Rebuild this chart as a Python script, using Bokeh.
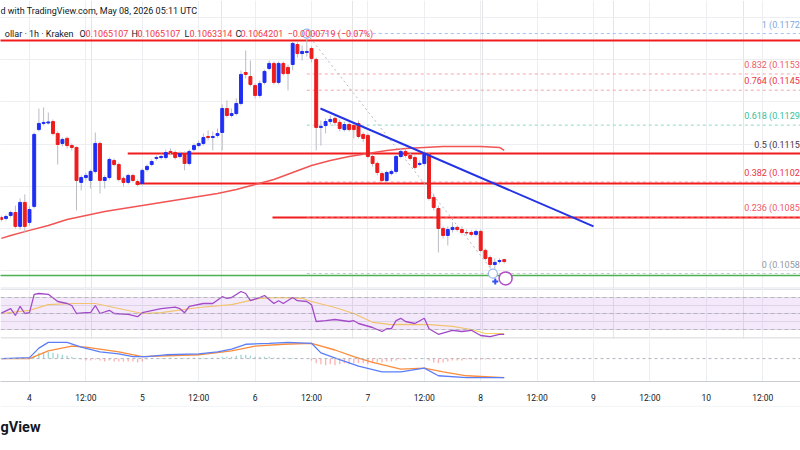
from datetime import datetime, timezone
from bokeh.plotting import figure
from bokeh.layouts import column
from bokeh.models import Range1d, Label, Span, FixedTicker, Grid, BoxAnnotation
from bokeh.embed import file_html
from bokeh.resources import INLINE
from bokeh.core.properties import value

# ---------------- data ----------------
# candle time = hours from 2026-05-04 00:00 UTC (Kraken, 1h)
candle_hours = list(range(-6, 102))
opens = [0.10851, 0.10847, 0.10861, 0.10875, 0.10809, 0.10923, 0.10828, 0.10904, 0.11269, 0.11298,
         0.11300, 0.11307, 0.11250, 0.11203, 0.11227, 0.11193, 0.11184, 0.11018, 0.11041, 0.11027,
         0.11070, 0.11203, 0.11027, 0.11041, 0.11122, 0.11103, 0.11037, 0.11018, 0.11051, 0.11022,
         0.11013, 0.11079, 0.11103, 0.11132, 0.11136, 0.11136, 0.11165, 0.11160, 0.11141, 0.11155,
         0.11108, 0.11174, 0.11193, 0.11203, 0.11236, 0.11231, 0.11241, 0.11255, 0.11369, 0.11336,
         0.11345, 0.11393, 0.11540, 0.11521, 0.11478, 0.11431, 0.11493, 0.11559, 0.11583, 0.11493,
         0.11583, 0.11564, 0.11578, 0.11673, 0.11630, 0.11635, 0.11654, 0.11602, 0.11279, 0.11288,
         0.11307, 0.11322, 0.11303, 0.11269, 0.11293, 0.11288, 0.11298, 0.11246, 0.11241, 0.11141,
         0.11108, 0.11060, 0.11027, 0.11060, 0.11070, 0.11141, 0.11165, 0.11146, 0.11136, 0.11103,
         0.11108, 0.11151, 0.10946, 0.10894, 0.10799, 0.10766, 0.10794, 0.10804, 0.10794, 0.10780,
         0.10780, 0.10771, 0.10785, 0.10695, 0.10661, 0.10628, 0.10642, 0.1065107]
highs = [0.10861, 0.10866, 0.10884, 0.10908, 0.10942, 0.10961, 0.10904, 0.11255, 0.11369, 0.11374,
         0.11350, 0.11317, 0.11260, 0.11231, 0.11236, 0.11203, 0.11189, 0.11051, 0.11065, 0.11079,
         0.11255, 0.11212, 0.11051, 0.11136, 0.11132, 0.11113, 0.11046, 0.11060, 0.11060, 0.11032,
         0.11084, 0.11103, 0.11127, 0.11146, 0.11155, 0.11174, 0.11179, 0.11170, 0.11165, 0.11165,
         0.11174, 0.11203, 0.11217, 0.11250, 0.11265, 0.11260, 0.11274, 0.11388, 0.11407, 0.11369,
         0.11417, 0.11550, 0.11645, 0.11597, 0.11488, 0.11502, 0.11554, 0.11597, 0.11592, 0.11592,
         0.11592, 0.11578, 0.11687, 0.11683, 0.11668, 0.11725, 0.11664, 0.11611, 0.11312, 0.11322,
         0.11336, 0.11331, 0.11317, 0.11307, 0.11303, 0.11298, 0.11312, 0.11255, 0.11250, 0.11151,
         0.11117, 0.11070, 0.11075, 0.11079, 0.11151, 0.11179, 0.11179, 0.11160, 0.11146, 0.11122,
         0.11170, 0.11160, 0.10965, 0.10908, 0.10809, 0.10809, 0.10828, 0.10813, 0.10809, 0.10794,
         0.10790, 0.10794, 0.10794, 0.10704, 0.10671, 0.10657, 0.10657, 0.1065107]
lows = [0.10832, 0.10837, 0.10851, 0.10799, 0.10794, 0.10780, 0.10813, 0.10894, 0.11260, 0.11288,
        0.11293, 0.11241, 0.11103, 0.11189, 0.11179, 0.11170, 0.10885, 0.10980, 0.11027, 0.10989,
        0.11060, 0.10965, 0.10989, 0.11032, 0.11094, 0.11022, 0.10999, 0.11008, 0.11018, 0.10999,
        0.11003, 0.11070, 0.11094, 0.11122, 0.11127, 0.11127, 0.11151, 0.11127, 0.11132, 0.11075,
        0.11098, 0.11165, 0.11184, 0.11193, 0.11217, 0.11170, 0.11231, 0.11170, 0.11326, 0.11326,
        0.11336, 0.11383, 0.11512, 0.11474, 0.11417, 0.11421, 0.11483, 0.11550, 0.11483, 0.11483,
        0.11526, 0.11455, 0.11550, 0.11611, 0.11597, 0.11616, 0.11588, 0.11170, 0.11193, 0.11250,
        0.11293, 0.11288, 0.11260, 0.11260, 0.11260, 0.11227, 0.11227, 0.11208, 0.11132, 0.11094,
        0.11051, 0.11018, 0.11018, 0.11051, 0.11060, 0.11132, 0.11136, 0.11122, 0.11079, 0.11094,
        0.11098, 0.10932, 0.10885, 0.10685, 0.10752, 0.10718, 0.10780, 0.10785, 0.10771, 0.10766,
        0.10761, 0.10761, 0.10685, 0.10647, 0.10609, 0.10585, 0.10633, 0.1063314]
closes = [0.10842, 0.10856, 0.10875, 0.10809, 0.10923, 0.10809, 0.10889, 0.11246, 0.11298, 0.11303,
          0.11305, 0.11250, 0.11198, 0.11222, 0.11193, 0.11184, 0.11027, 0.11041, 0.11051, 0.11070,
          0.11203, 0.11027, 0.11041, 0.11127, 0.11103, 0.11032, 0.11018, 0.11051, 0.11027, 0.11008,
          0.11075, 0.11094, 0.11117, 0.11136, 0.11141, 0.11160, 0.11160, 0.11136, 0.11155, 0.11108,
          0.11165, 0.11193, 0.11203, 0.11231, 0.11231, 0.11236, 0.11250, 0.11369, 0.11336, 0.11345,
          0.11393, 0.11531, 0.11531, 0.11483, 0.11431, 0.11488, 0.11545, 0.11583, 0.11493, 0.11583,
          0.11535, 0.11535, 0.11678, 0.11630, 0.11640, 0.11640, 0.11607, 0.11279, 0.11284, 0.11307,
          0.11317, 0.11303, 0.11274, 0.11293, 0.11269, 0.11269, 0.11236, 0.11227, 0.11141, 0.11108,
          0.11065, 0.11027, 0.11065, 0.11070, 0.11141, 0.11165, 0.11146, 0.11132, 0.11089, 0.11108,
          0.11151, 0.10942, 0.10899, 0.10799, 0.10766, 0.10794, 0.10804, 0.10794, 0.10780, 0.10778,
          0.10771, 0.10785, 0.10695, 0.10657, 0.10628, 0.10638, 0.10647, 0.1064201]

# moving average on price pane
ma_hours = [-6, -4, 0, 4, 8, 12, 16, 20, 24, 28, 32, 36, 40, 44, 48, 52, 56, 60, 64, 68,
            72, 76, 80, 84, 88, 92, 96, 100, 101]
ma_values = [0.10752, 0.10766, 0.10790, 0.10813, 0.10842, 0.10861, 0.10880, 0.10894, 0.10908, 0.10923,
             0.10937, 0.10951, 0.10965, 0.10984, 0.11008, 0.11032, 0.11065, 0.11098, 0.11122, 0.11141,
             0.11155, 0.11170, 0.11179, 0.11184, 0.11189, 0.11189, 0.11189, 0.11184, 0.11170]

# Fibonacci retracement (from swing high to swing low)
fib_prices = [0.11725, 0.11533, 0.11456, 0.11290, 0.11155, 0.11020, 0.10854, 0.10585]
fib_labels = ["1 (0.1172", "0.832 (0.1153", "0.764 (0.1145", "0.618 (0.1129", "0.5 (0.1115",
              "0.382 (0.1102", "0.236 (0.1085", "0 (0.1058"]
fib_line_colors = ["#9fc3f5", "#f5a3aa", "#f5a3aa", "#8fdcc6", "#b9a0b0", "#f5a3aa", "#f5a3aa", "#c3c6cc"]
fib_text_colors = ["#7fa8e0", "#ef5a66", "#ec3340", "#33c29a", "#4a3545", "#ec3340", "#ef5a66", "#9598a1"]
fib_start_hour = 59
fib_end_hour = 99
# red horizontal support/resistance rays
red_levels = [0.11692, 0.11155, 0.11013, 0.10851]
red_start_hours = [-8, 20.9, 22.6, 51.7]
green_level = 0.10576
# blue bearish trend line
trend_hours = [61.9, 120.0]
trend_prices = [0.11369, 0.10809]

# RSI pane
rsi_hours = [-6, -4, -3, -2, -1, 0, 1, 2, 4, 6, 8, 9, 10, 12, 13, 14, 15, 17, 18, 21, 23, 24, 28, 31,
             32, 33, 34, 37, 39, 41, 42, 43, 45, 46, 47, 49, 50, 52, 53, 54, 56, 57, 59, 60, 61, 63,
             65, 68, 69, 70, 73, 75, 76, 77, 78, 79, 80, 82, 84, 85, 87, 90, 92, 94, 96, 98, 100, 101]
rsi_values = [50.4, 56, 47.5, 59, 50, 51, 74, 75, 74, 65, 62.5, 60, 50, 51, 51, 60, 50, 54, 50, 49,
              46, 51, 56, 58, 56, 51, 59, 62.5, 62.5, 71, 69, 70, 77.5, 75, 66, 70, 72.5, 62.5, 66,
              62.5, 70, 66, 65, 61, 40, 41, 42.5, 40, 41, 37.5, 32.5, 27.5, 31, 31, 41, 44, 40, 37.5,
              44, 31, 24, 29, 27.5, 29, 22.5, 21, 24, 24]
rsi_ma_hours = [-6, 0, 4, 9, 14, 18, 24, 28, 36, 43, 49, 53, 58, 60, 65, 69, 73, 77, 79, 85, 90, 94, 97, 101]
rsi_ma_values = [50, 54, 61, 62.5, 62.5, 57.5, 50, 51, 57.5, 61, 69, 70, 69, 65, 57.5, 50, 39, 36, 36.5,
                 36, 34, 30, 25, 25]

# MACD pane
macd_hours = [-6, 0, 2, 4, 8, 11, 15, 19, 22, 25, 29, 36, 40, 43, 46, 51, 55, 60, 62, 66, 70, 75,
              79, 84, 87, 93, 97, 101]
macd_values = [0, 0.00004, 0.00044, 0.00068, 0.00068, 0.00048, 0.00028, 0.00020, 0.00008, 0.00008,
               0.00016, 0.00020, 0.00028, 0.00040, 0.00060, 0.00064, 0.00068, 0.00064, 0.00024,
               -0.00004, -0.00032, -0.00056, -0.00056, -0.00040, -0.00072, -0.00080, -0.00080, -0.00080]
signal_hours = [-6, 0, 4, 9, 12, 19, 24, 29, 36, 43, 48, 54, 60, 65, 69, 73, 79, 84, 88, 93, 101]
signal_values = [0, 0, 0.00032, 0.00052, 0.00048, 0.00028, 0.00008, 0.00012, 0.00016, 0.00032,
                 0.00052, 0.00060, 0.00064, 0.00036, 0.00008, -0.00016, -0.00044, -0.00040,
                 -0.00056, -0.00072, -0.00080]
hist_values = [0, 1, 2, -1, 2, -1, 1,
               12, 24, 28, 28, 24, 20, 16, 12, 8, 4,
               -4, -8, -8, -4, -8, -12, -8, -12, -12, -12, -12, -12, -16, -12, -4, 0, 2,
               2, 3, 4, 3, 2, 3, 4, 4, 3, 4, 3, 4, 4,
               8, 8, 8, 12, 16, 16, 12, 8, 8, 8, 8, 4, 4, 4, 4, 4, 2, 0, 0,
               -8, -20, -24, -28, -24, -28, -24, -20, -24, -20, -20, -20, -24, -20, -16, -16, -12,
               -12, -8, -4, -4, 0, 0, 0, 2,
               -8, -16, -20, -16, -12, -8, -8, -8, -4, -4, -4, -4, -4, -4, 0, 0, -1]
hist_values = [v * 1e-5 for v in hist_values]

# time axis
tick_hours = [0, 12, 24, 36, 48, 60, 72, 84, 96, 108, 120, 132, 144, 156]
tick_labels = ["4", "12:00", "5", "12:00", "6", "12:00", "7", "12:00", "8", "12:00", "9", "12:00", "10", "12:00"]
price_ticks = [0.106, 0.108, 0.110, 0.112, 0.114, 0.116, 0.118]

header_text = "d with TradingView.com, May 08, 2026 05:11 UTC"
legend_name = "ollar \u00b7 1h \u00b7 Kraken"
legend_ohlc = [("O", "0.1065107"), ("H", "0.1065107"), ("L", "0.1063314"), ("C", "0.1064201")]
legend_change = "\u22120.0000719 (\u22120.07%)"

for arr in (opens, highs, lows, closes, hist_values):
    assert len(arr) == len(candle_hours), len(arr)
assert len(rsi_hours) == len(rsi_values)
assert len(rsi_ma_hours) == len(rsi_ma_values)
assert len(macd_hours) == len(macd_values)
assert len(signal_hours) == len(signal_values)
assert len(ma_hours) == len(ma_values)

# ---------------- helpers ----------------
HOUR = 3600000.0
BASE = datetime(2026, 5, 4, tzinfo=timezone.utc).timestamp() * 1000.0


def ms(h):
    return BASE + h * HOUR


def ms_list(hs):
    return [ms(h) for h in hs]


FONT = "Roboto"
TXT = "#131722"
GRID = "#eceef2"
BULL = "#1f2ef5"
BEAR = "#ee1c1c"
W = 800
X_END = 164.04

x_range = Range1d(ms(-6.17), ms(X_END))
tick_ms = ms_list(tick_hours)


def base_fig(height, y_range):
    f = figure(width=W, height=height, x_range=x_range, y_range=y_range,
               x_axis_location=None, y_axis_location=None, toolbar_location=None,
               output_backend="svg", min_border=0, outline_line_color=None)
    f.min_border_left = 0
    f.min_border_right = 0
    f.min_border_top = 0
    f.min_border_bottom = 0
    return f


def add_vgrid(f):
    f.add_layout(Grid(dimension=0, ticker=FixedTicker(ticks=tick_ms), grid_line_color=GRID, grid_line_width=1))


# ---------------- main price pane ----------------
p = base_fig(288, Range1d(0.10514, 0.11882))
add_vgrid(p)
p.add_layout(Grid(dimension=1, ticker=FixedTicker(ticks=price_ticks), grid_line_color=GRID, grid_line_width=1))

t = ms_list(candle_hours)
far = ms(175)

# fib lines
p.segment(x0=[ms(fib_start_hour)] * len(fib_prices), y0=fib_prices, x1=[far] * len(fib_prices), y1=fib_prices,
          line_color=fib_line_colors, line_width=1, line_dash="3 3")
# red rays
p.segment(x0=ms_list(red_start_hours), y0=red_levels, x1=[far] * len(red_levels), y1=red_levels,
          line_color="#f21c1c", line_width=2)
# dashed overlay on lowest red ray (fib 0.236)
p.segment(x0=[ms(fib_start_hour)], y0=[fib_prices[6]], x1=[far], y1=[fib_prices[6]],
          line_color="#ffb0b0", line_width=1, line_dash="3 3")
# green line
p.segment(x0=[ms(-8)], y0=[green_level], x1=[far], y1=[green_level], line_color="#4caf50", line_width=1.5)
# fib diagonal
p.line(x=[ms(fib_start_hour), ms(fib_end_hour)], y=[fib_prices[0], fib_prices[-1]],
       line_color="#b4b7be", line_width=1, line_dash="2 3")
# MA
p.line(x=ms_list(ma_hours), y=ma_values, line_color="#f25454", line_width=1.5)

# candles
colors = [BULL if c >= o else BEAR for o, c in zip(opens, closes)]
p.segment(x0=t, y0=lows, x1=t, y1=highs, line_color="#b9bcc4", line_width=1)
p.vbar(x=t, width=0.62 * HOUR, top=[max(o, c) for o, c in zip(opens, closes)],
       bottom=[min(o, c) for o, c in zip(opens, closes)], fill_color=colors, line_color=colors, line_width=1)

# blue trend line
p.line(x=ms_list(trend_hours), y=trend_prices, line_color="#2433e6", line_width=2)

# markers
p.scatter(x=[ms(fib_start_hour), ms(fib_end_hour - 0.4)], y=[fib_prices[0], fib_prices[-1]], marker="circle",
          size=9, fill_color="white", line_color="#9ab8ef", line_width=1.2)
p.scatter(x=[ms(101.3)], y=[0.10562], marker="circle", size=13, fill_color="white", line_color="#b04cc4",
          line_width=1.5)
p.scatter(x=[ms(99.1)], y=[0.10547], marker="cross", size=6, line_color="#3050f0", line_width=2)

# fib labels (as far as the picture shows them)
p.text(x=[ms(X_END - 0.15)] * len(fib_prices), y=fib_prices, text=fib_labels,
       text_align="right", text_baseline="middle", y_offset=-9, text_font=value(FONT),
       text_font_size="9px", text_color=fib_text_colors)

# header and legend
p.add_layout(Label(x=0, y=0.11830, x_units="screen", text=header_text, text_font=FONT,
                   text_font_size="9px", text_color=TXT, text_baseline="middle"))
leg_y = 0.11725
p.add_layout(Label(x=73, y=leg_y, x_units="screen", text=legend_name, text_font=FONT,
                   text_font_size="9px", text_color=TXT, text_baseline="middle", text_align="right"))
letter_x = [79, 131, 184, 235]
value_x = [85, 137, 189, 240]
for (lt, vl), lx, vx in zip(legend_ohlc, letter_x, value_x):
    p.add_layout(Label(x=lx, y=leg_y, x_units="screen", text=lt, text_font=FONT, text_font_size="9px",
                       text_color=TXT, text_baseline="middle"))
    p.add_layout(Label(x=vx, y=leg_y, x_units="screen", text=vl, text_font=FONT, text_font_size="9px",
                       text_color="#f23645", text_baseline="middle"))
p.add_layout(Label(x=287, y=leg_y, x_units="screen", text=legend_change, text_font=FONT,
                   text_font_size="9px", text_color="#f23645", text_baseline="middle"))
p.add_layout(Span(location=0.10514, dimension="width", line_color="#e0e3eb", line_width=2))

# ---------------- RSI pane ----------------
pr = base_fig(51, Range1d(17.5, 81.25))
add_vgrid(pr)
pr.add_layout(BoxAnnotation(bottom=30, top=70, fill_color="#b36ae2", fill_alpha=0.15, line_color=None))
for lvl in (70, 50, 30):
    pr.add_layout(Span(location=lvl, dimension="width", line_color="#9a9ca6", line_alpha=0.6,
                       line_width=1, line_dash="4 3"))
pr.line(x=ms_list(rsi_ma_hours), y=rsi_ma_values, line_color="#fbd35a", line_width=1.2)
pr.line(x=ms_list(rsi_hours), y=rsi_values, line_color="#a046c6", line_width=1.3)
pr.add_layout(Span(location=81.25, dimension="width", line_color="#e0e3eb", line_width=2))
pr.add_layout(Span(location=17.5, dimension="width", line_color="#e0e3eb", line_width=2))

# ---------------- MACD pane + time axis ----------------
pm = figure(width=W, height=66, x_range=x_range, y_range=Range1d(-0.00096, 0.0008),
            y_axis_location=None, toolbar_location=None, output_backend="svg",
            min_border=0, outline_line_color=None)
pm.min_border_left = 0
pm.min_border_right = 0
pm.min_border_top = 0
pm.min_border_bottom = 22
pm.xaxis.ticker = FixedTicker(ticks=tick_ms)
pm.xaxis.major_label_overrides = {k: v for k, v in zip(tick_ms, tick_labels)}
pm.xaxis.major_tick_line_color = None
pm.xaxis.minor_tick_line_color = None
pm.xaxis.axis_line_color = "#c9ccd3"
pm.xaxis.major_label_text_font = FONT
pm.xaxis.major_label_text_font_size = "8.5px"
pm.xaxis.major_label_text_color = TXT
pm.xaxis.major_label_standoff = 5
pm.xgrid.grid_line_color = GRID
pm.ygrid.visible = False
pm.add_layout(Span(location=0, dimension="width", line_color="#b2b5be", line_width=1, line_dash="3 3"))
hcolors = ["#26a69a" if v >= 0 else "#ff5252" for v in hist_values]
pm.vbar(x=t, width=0.28 * HOUR, top=[max(v, 0) for v in hist_values], bottom=[min(v, 0) for v in hist_values],
        fill_color=hcolors, line_color=None, fill_alpha=0.45)
pm.line(x=ms_list(signal_hours), y=signal_values, line_color="#fb8c3c", line_width=1.3)
pm.line(x=ms_list(macd_hours), y=macd_values, line_color="#5a7ff8", line_width=1.3)

# ---------------- logo strip ----------------
pl = figure(width=W, height=45, x_range=Range1d(0, 1), y_range=Range1d(0, 1),
            x_axis_location=None, y_axis_location=None, toolbar_location=None, output_backend="svg",
            min_border=0, outline_line_color=None)
pl.min_border_left = 0
pl.min_border_right = 0
pl.min_border_top = 0
pl.min_border_bottom = 0
pl.xgrid.visible = False
pl.ygrid.visible = False
pl.add_layout(Span(location=0.985, dimension="width", line_color="#eef0f3", line_width=1))
pl.add_layout(Label(x=0, y=0.51, x_units="screen", text="gView", text_font=FONT, text_font_size="14.5px",
                    text_font_style="bold", text_color=TXT, text_baseline="middle"))

layout = column(p, pr, pm, pl, spacing=0)
open("out.html", "w").write(file_html(layout, INLINE))
